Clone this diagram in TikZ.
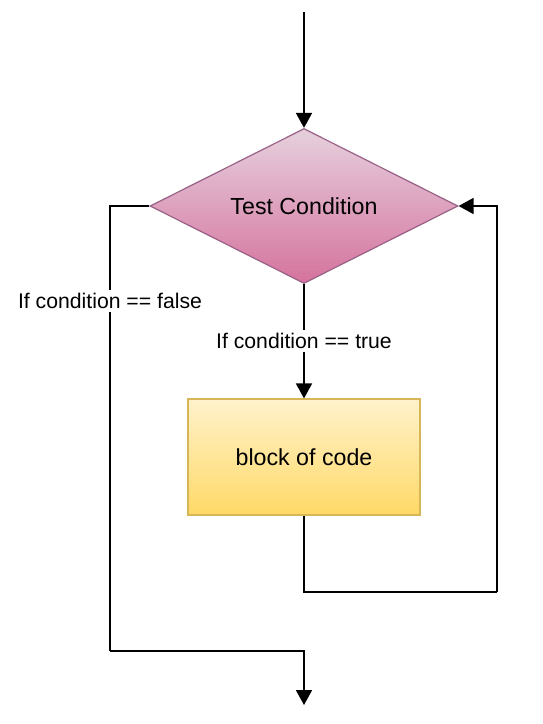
\documentclass[tikz,border=0pt]{standalone}
\usepackage{fontspec}
\setmainfont{Liberation Sans}
\usetikzlibrary{shapes.geometric,arrows.meta}
\definecolor{condtop}{HTML}{E6D0DE}
\definecolor{condbot}{HTML}{D5739D}
\definecolor{condline}{HTML}{996185}
\definecolor{codetop}{HTML}{FFF2CC}
\definecolor{codebot}{HTML}{FFD966}
\definecolor{codeline}{HTML}{D6B656}
\tikzset{
    flow/.style={line width=0.9pt, -{Triangle[length=7.5pt,width=8pt]}},
    loopline/.style={line width=0.9pt},
    condshape/.style={diamond, aspect=1.99, minimum width=154pt, minimum height=77.5pt, inner sep=0pt,
        draw=condline, line width=0.6pt, top color=condtop, bottom color=condbot, font=\fontsize{11.6}{14}\selectfont},
    codeshape/.style={rectangle, minimum width=116pt, minimum height=58pt, inner sep=0pt,
        draw=codeline, line width=0.6pt, top color=codetop, bottom color=codebot, font=\fontsize{11.6}{14}\selectfont},
    lbl/.style={fill=white, inner sep=1.5pt, font=\fontsize{10.6}{12}\selectfont}
}
\begin{document}
\begin{tikzpicture}[x=0.5pt, y=-0.5pt]

        \useasboundingbox (0,0) rectangle (542,724);

        \coordinate (start) at (304,12);
        \coordinate (loopc) at (497,592);
        \coordinate (falsec) at (110,651);
        \coordinate (finish) at (304,705);

        \node[condshape] (cond) at (304,206) {Test Condition};
        \node[codeshape] (code) at (304,457) {block of code};

        \draw[flow] (start) -- (cond.north);
        \draw[flow] (cond.south) -- node[lbl] (truelbl) {If condition == true} (code.north);
        \draw[loopline] (code.south) |- (loopc);
        \draw[flow] (loopc) |- (cond.east);
        \draw[loopline] (cond.west) -| (falsec);
        \draw[flow] (falsec) -| (finish);

        \node[lbl] (falselbl) at (110,301) {If condition == false};

    \end{tikzpicture}
\end{document}
